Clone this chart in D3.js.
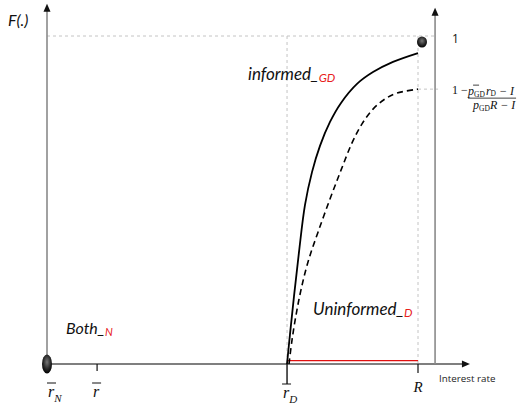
<!DOCTYPE html>
<html>
<head>
<meta charset="utf-8">
<script src="https://cdn.jsdelivr.net/npm/d3@7"></script>
<style>
  html, body { margin: 0; padding: 0; background: #fff; }
  svg { display: block; }
  .lbl { font-family: Lato, "Open Sans", sans-serif; font-style: italic; fill: #111; }
  .sub { font-family: Lato, "Open Sans", sans-serif; font-style: italic; fill: #e8201c; }
  .serif { font-family: "Liberation Serif", "DejaVu Serif", serif; fill: #111; }
</style>
</head>
<body>
<svg id="chart" width="519" height="404"></svg>
<script>
// Interest-rate positions (r̄_N = 0, R = 100)
const rateNames = ["rN", "rbar", "rD", "R"];
const rateValues = [0, 13.5, 64.7, 100];
const rightAxisRate = 104.6;
const rateAxisEnd = 114;

// Cumulative share F(.) levels
const topLevel = 1;
const uninformedCap = 0.838;   // 1 - (p_GD r̄_D - I)/(p_GD R - I)
const redLevel = 0.01;
const leftAxisTop = 1.098;
const rightAxisTop = 1.086;

// informed_GD (solid) curve
const informedRate = [64.69, 65.5, 66.58, 67.92, 69.54, 71.43, 73.58, 76.28, 79.25, 83.56, 87.87, 93.26, 100];
const informedF    = [0, 0.091, 0.207, 0.341, 0.485, 0.585, 0.665, 0.738, 0.796, 0.854, 0.890, 0.921, 0.948];

// Uninformed_D (dashed) curve
const uninformedRate = [65.23, 66.04, 67.12, 68.46, 70.35, 73.05, 76.28, 79.25, 82.21, 84.91, 87.87, 91.11, 94.34, 100];
const uninformedF    = [0, 0.073, 0.149, 0.226, 0.311, 0.402, 0.503, 0.591, 0.674, 0.732, 0.777, 0.808, 0.826, 0.838];

const rate = Object.fromEntries(rateNames.map((n, i) => [n, rateValues[i]]));

const svg = d3.select("#chart");
const x = d3.scaleLinear().domain([0, 100]).range([47, 418]);
const y = d3.scaleLinear().domain([0, 1]).range([364, 36]);

const defs = svg.append("defs");
const grad = defs.append("radialGradient").attr("id", "ball").attr("cx", "50%").attr("cy", "40%").attr("r", "60%");
grad.append("stop").attr("offset", "0%").attr("stop-color", "#777");
grad.append("stop").attr("offset", "60%").attr("stop-color", "#2a2a2a");
grad.append("stop").attr("offset", "100%").attr("stop-color", "#000");

const guide = { stroke: "#c4c4c4", "stroke-width": 1, "stroke-dasharray": "3,3", fill: "none" };
function line(x1, y1, x2, y2, attrs) {
  const l = svg.append("line").attr("x1", x1).attr("y1", y1).attr("x2", x2).attr("y2", y2);
  for (const k in attrs) l.attr(k, attrs[k]);
  return l;
}

// guide lines
line(x(rate.rN), y(topLevel), x(rightAxisRate), y(topLevel), guide);
line(x(rate.rD), y(topLevel), x(rate.rD), y(0), guide);
line(x(rate.R), y(topLevel), x(rate.R), y(0), guide);
line(x(rate.R), y(uninformedCap), x(rightAxisRate) + 3, y(uninformedCap), guide);

// axes
line(x(rate.rN), y(0), x(rateAxisEnd) - 6, y(0), { stroke: "#555", "stroke-width": 1.4 });
line(x(rate.rN), y(0), x(rate.rN), y(leftAxisTop) + 6, { stroke: "#8a8a8a", "stroke-width": 1.6 });
line(x(rightAxisRate), y(0), x(rightAxisRate), y(rightAxisTop) + 6, { stroke: "#8a8a8a", "stroke-width": 1.6 });

function arrowUp(cx, tipY) {
  svg.append("path").attr("d", `M${cx},${tipY} L${cx - 3.5},${tipY + 8} L${cx + 3.5},${tipY + 8} Z`).attr("fill", "#111");
}
arrowUp(x(rate.rN), y(leftAxisTop));
arrowUp(x(rightAxisRate), y(rightAxisTop));
svg.append("path")
  .attr("d", `M${x(rateAxisEnd)},${y(0)} L${x(rateAxisEnd) - 8},${y(0) - 3.5} L${x(rateAxisEnd) - 8},${y(0) + 3.5} Z`)
  .attr("fill", "#111");

// ticks
line(x(rate.rbar), y(0), x(rate.rbar), y(0) + 7, { stroke: "#111", "stroke-width": 1.2 });
line(x(rate.R), y(0), x(rate.R), y(0) + 9, { stroke: "#111", "stroke-width": 1.2 });
line(x(rate.rD), y(0), x(rate.rD), y(0) + 20, { stroke: "#111", "stroke-width": 1.4 });

// red floor segment
line(x(rate.rD) + 1, y(redLevel), x(rate.R), y(redLevel), { stroke: "#e01010", "stroke-width": 1.2 });

// curves
const gen = d3.line().x(d => x(d[0])).y(d => y(d[1])).curve(d3.curveCatmullRom.alpha(0.5));
svg.append("path").datum(informedRate.map((r, i) => [r, informedF[i]]))
  .attr("d", gen).attr("fill", "none").attr("stroke", "#000").attr("stroke-width", 1.8);
svg.append("path").datum(uninformedRate.map((r, i) => [r, uninformedF[i]]))
  .attr("d", gen).attr("fill", "none").attr("stroke", "#000").attr("stroke-width", 1.6)
  .attr("stroke-dasharray", "6,4");

// end markers
svg.append("ellipse").attr("cx", x(rate.rN)).attr("cy", y(0)).attr("rx", 5).attr("ry", 9.5).attr("fill", "url(#ball)");
svg.append("ellipse").attr("cx", x(rate.R) + 4).attr("cy", y(topLevel) + 6).attr("rx", 5).attr("ry", 5.5).attr("fill", "url(#ball)");

// text labels
function label(px, py, main, sub, size, subSize) {
  const t = svg.append("text").attr("x", px).attr("y", py).attr("class", "lbl").attr("font-size", size).text(main);
  if (sub) t.append("tspan").attr("class", "sub").attr("font-size", subSize).attr("dy", 2).text(sub);
  return t;
}
label(8, 26, "F(.)", null, 16);
label(248, 80, "informed_", "GD", 17, 12);
label(313, 315, "Uninformed_", "D", 17, 12);
label(66, 334, "Both_", "N", 16, 11);

svg.append("text").attr("x", x(rate.R) + 21).attr("y", 382)
  .attr("font-family", "'Open Sans', sans-serif").attr("font-size", 9.8).attr("fill", "#222").text("Interest rate");

svg.append("text").attr("x", x(rightAxisRate) + 17).attr("y", y(topLevel) + 7)
  .attr("font-family", "'Open Sans', sans-serif").attr("font-size", 12).attr("fill", "#111").text("1");

// rate labels with overline
function rateLabel(px, base, sub, bar) {
  const t = svg.append("text").attr("class", "serif").attr("x", px).attr("y", base)
    .attr("font-size", 16).attr("font-style", "italic").text("r");
  if (sub) t.append("tspan").attr("font-size", 11).attr("dy", 5).text(sub);
  if (bar) line(px - 1, base - 14, px + 8, base - 14, { stroke: "#111", "stroke-width": 1 });
}
rateLabel(x(rate.rN) + 1, 397, "N", true);
rateLabel(x(rate.rbar) - 4, 397, null, true);
rateLabel(x(rate.rD) - 4, 398, "D", true);
svg.append("text").attr("class", "serif").attr("x", x(rate.R)).attr("y", 392).attr("text-anchor", "middle")
  .attr("font-size", 15).attr("font-style", "italic").text("R");

// 1 - (p_GD r̄_D - I)/(p_GD R - I)
const fx = x(rightAxisRate) + 17;
const fy = y(uninformedCap);
svg.append("text").attr("class", "serif").attr("x", fx).attr("y", fy + 5).attr("font-size", 12).text("1 −");
const num = svg.append("text").attr("class", "serif").attr("x", fx + 16).attr("y", fy + 6).attr("font-size", 12).attr("font-style", "italic");
num.append("tspan").text("p");
num.append("tspan").attr("font-size", 7.5).attr("font-style", "normal").attr("dy", 2).text("GD");
num.append("tspan").attr("dy", -2).attr("dx", 1).text("r");
num.append("tspan").attr("font-size", 7.5).attr("font-style", "normal").attr("dy", 1).text("D");
num.append("tspan").attr("dy", -1).text(" − I");
line(fx + 21, fy - 4, fx + 27, fy - 4, { stroke: "#111", "stroke-width": 0.8 });
line(fx + 16, fy + 9, fx + 64, fy + 9, { stroke: "#111", "stroke-width": 0.8 });
const den = svg.append("text").attr("class", "serif").attr("x", fx + 21).attr("y", fy + 20).attr("font-size", 12).attr("font-style", "italic");
den.append("tspan").text("p");
den.append("tspan").attr("font-size", 7.5).attr("font-style", "normal").attr("dy", 2).text("GD");
den.append("tspan").attr("dy", -2).text("R − I");
</script>
</body>
</html>
